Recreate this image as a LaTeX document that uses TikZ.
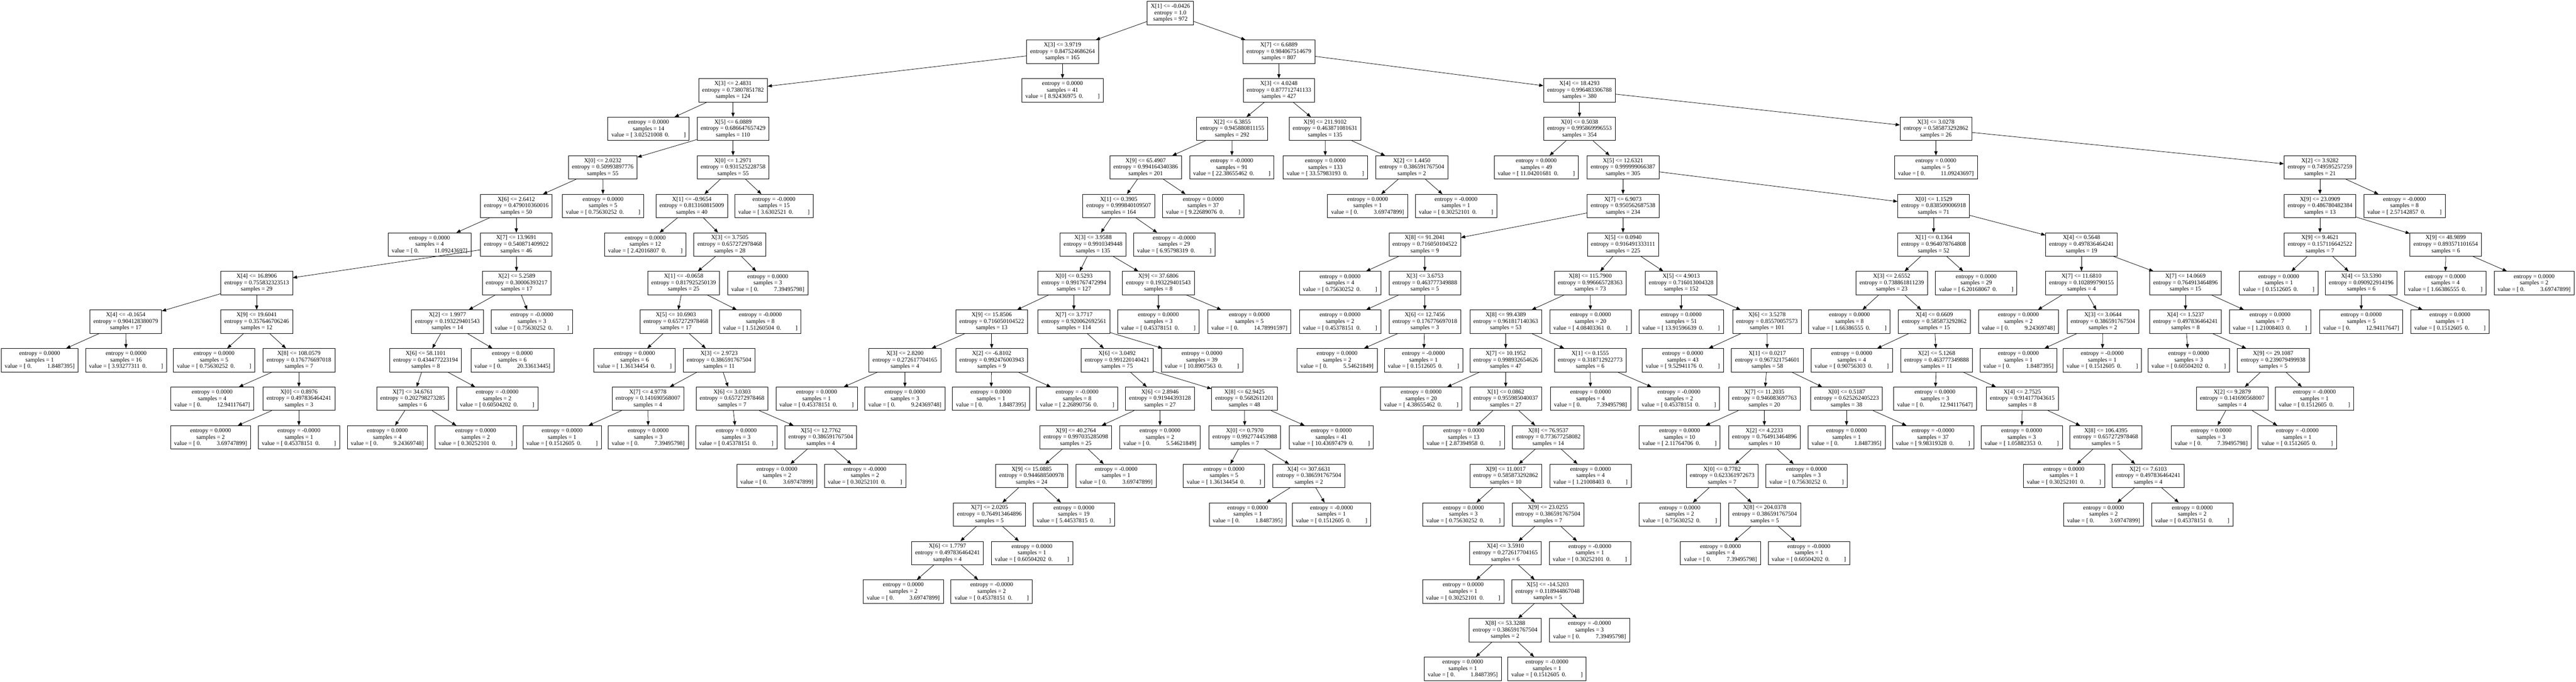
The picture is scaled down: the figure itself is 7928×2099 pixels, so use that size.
\documentclass[tikz,border=0pt]{standalone}
\usepackage{fontspec}
\setmainfont{Liberation Serif}
\usetikzlibrary{arrows.meta}
\newcommand{\nodefont}{\fontsize{18.3pt}{20pt}\selectfont}
\newcommand{\dtsplit}[4]{X[#1] <= #2\\entropy = #3\\samples = #4}
\newcommand{\dtlz}[3]{entropy = #1\\samples = #2\\value = [~0.\hspace{48pt}#3]}
\newcommand{\dtlv}[3]{entropy = #1\\samples = #2\\value = [~#3\hspace{8pt}0.\hspace{44pt}]}
\tikzset{
  nd/.style={draw, line width=1.2pt, rectangle, align=center, font=\nodefont,
    inner xsep=11pt, inner ysep=0pt, minimum height=72pt},
  edge/.style={line width=1.2pt, -{Triangle[length=13pt,width=10pt]}}
}
\begin{document}
\begin{tikzpicture}[x=1pt,y=-1pt]
\useasboundingbox (0,0) rectangle (7928,2099);
% row 0
\node[nd] (A0) at (3602,40.5) {\dtsplit{1}{-0.0426}{1.0}{972}};
% row 1
\node[nd] (B1) at (3270,159.2) {\dtsplit{3}{3.9719}{0.847524686264}{165}};
\node[nd] (B2) at (3936,159.2) {\dtsplit{7}{6.6889}{0.984067514679}{807}};
% row 2
\node[nd] (C1) at (2256,277.9) {\dtsplit{3}{2.4831}{0.73807851782}{124}};
\node[nd] (C2) at (3270,277.9) {\dtlv{0.0000}{41}{8.92436975}};
\node[nd] (C3) at (3936,277.9) {\dtsplit{3}{4.0248}{0.877712741133}{427}};
\node[nd] (C4) at (4861,277.9) {\dtsplit{4}{18.4293}{0.996483306788}{380}};
% row 3
\node[nd] (D1) at (1996,396.6) {\dtlv{0.0000}{14}{3.02521008}};
\node[nd] (D2) at (2256,396.6) {\dtsplit{5}{6.0889}{0.686647657429}{110}};
\node[nd] (D3) at (3792,396.6) {\dtsplit{2}{6.3855}{0.945880811155}{292}};
\node[nd] (D4) at (4078,396.6) {\dtsplit{9}{211.9102}{0.463871081631}{135}};
\node[nd] (D5) at (4861,396.6) {\dtsplit{0}{0.5038}{0.995869996553}{354}};
\node[nd] (D6) at (5958,396.6) {\dtsplit{3}{3.0278}{0.585873292862}{26}};
% row 4
\node[nd] (E1) at (1855,515.3) {\dtsplit{0}{2.0232}{0.50993897776}{55}};
\node[nd] (E2) at (2256,515.3) {\dtsplit{0}{1.2971}{0.931525228758}{55}};
\node[nd] (E3) at (3526,515.3) {\dtsplit{9}{65.4907}{0.994164340386}{201}};
\node[nd] (E4) at (3791,515.3) {\dtlv{-0.0000}{91}{22.38655462}};
\node[nd] (E5) at (4079,515.3) {\dtlv{0.0000}{133}{33.57983193}};
\node[nd] (E6) at (4345,515.3) {\dtsplit{2}{1.4450}{0.386591767504}{2}};
\node[nd] (E7) at (4728,515.3) {\dtlv{0.0000}{49}{11.04201681}};
\node[nd] (E8) at (4995,515.3) {\dtsplit{5}{12.6321}{0.999999066387}{305}};
\node[nd] (E9) at (5958,515.3) {\dtlz{0.0000}{5}{11.09243697}};
\node[nd] (E10) at (7140,515.3) {\dtsplit{2}{3.9282}{0.749595257259}{21}};
% row 5
\node[nd] (F1) at (1589,634.0) {\dtsplit{6}{2.6412}{0.479010360016}{50}};
\node[nd] (F2) at (1856,634.0) {\dtlv{0.0000}{5}{0.75630252}};
\node[nd] (F3) at (2129,634.0) {\dtsplit{1}{-0.9654}{0.813160815009}{40}};
\node[nd] (F4) at (2382,634.0) {\dtlv{-0.0000}{15}{3.6302521}};
\node[nd] (F5) at (3443,634.0) {\dtsplit{1}{0.3905}{0.999840109507}{164}};
\node[nd] (F6) at (3703,634.0) {\dtlv{0.0000}{37}{9.22689076}};
\node[nd] (F7) at (4209,634.0) {\dtlz{0.0000}{1}{3.69747899}};
\node[nd] (F8) at (4481,634.0) {\dtlv{-0.0000}{1}{0.30252101}};
\node[nd] (F9) at (4995,634.0) {\dtsplit{7}{6.9073}{0.950562687538}{234}};
\node[nd] (F10) at (5951,634.0) {\dtsplit{0}{1.1529}{0.838509006918}{71}};
\node[nd] (F11) at (7140,634.0) {\dtsplit{9}{23.0909}{0.486780482384}{13}};
\node[nd] (F12) at (7400,634.0) {\dtlv{-0.0000}{8}{2.57142857}};
% row 6
\node[nd] (G1) at (1322,752.7) {\dtlz{0.0000}{4}{11.09243697}};
\node[nd] (G2) at (1589,752.7) {\dtsplit{7}{13.9691}{0.540871409922}{46}};
\node[nd] (G3) at (1986,752.7) {\dtlv{0.0000}{12}{2.42016807}};
\node[nd] (G4) at (2246,752.7) {\dtsplit{3}{3.7505}{0.657272978468}{28}};
\node[nd] (G5) at (3364,752.7) {\dtsplit{3}{3.9588}{0.9910349448}{135}};
\node[nd] (G6) at (3614,752.7) {\dtlv{-0.0000}{29}{6.95798319}};
\node[nd] (G7) at (4385,752.7) {\dtsplit{8}{91.2041}{0.716050104522}{9}};
\node[nd] (G8) at (4995,752.7) {\dtsplit{5}{0.0940}{0.916491333111}{225}};
\node[nd] (G9) at (5951,752.7) {\dtsplit{1}{0.1364}{0.964078764808}{52}};
\node[nd] (G10) at (6406,752.7) {\dtsplit{4}{0.5648}{0.497836464241}{19}};
\node[nd] (G11) at (7140,752.7) {\dtsplit{9}{9.4621}{0.157116642522}{7}};
\node[nd] (G12) at (7527,752.7) {\dtsplit{9}{48.9899}{0.893571101654}{6}};
% row 7
\node[nd] (H1) at (790,871.4) {\dtsplit{4}{16.8906}{0.755832323513}{29}};
\node[nd] (H2) at (1590,871.4) {\dtsplit{2}{5.2589}{0.30006393217}{17}};
\node[nd] (H3) at (2104,871.4) {\dtsplit{1}{-0.0658}{0.817925250139}{25}};
\node[nd] (H4) at (2363,871.4) {\dtlz{0.0000}{3}{7.39495798}};
\node[nd] (H5) at (3305,871.4) {\dtsplit{0}{0.5293}{0.991767472994}{127}};
\node[nd] (H6) at (3565,871.4) {\dtsplit{9}{37.6806}{0.193229401543}{8}};
\node[nd] (H7) at (4124,871.4) {\dtlv{0.0000}{4}{0.75630252}};
\node[nd] (H8) at (4385,871.4) {\dtsplit{3}{3.6753}{0.463777349888}{5}};
\node[nd] (H9) at (4894,871.4) {\dtsplit{8}{115.7900}{0.996665728363}{73}};
\node[nd] (H10) at (5174,871.4) {\dtsplit{5}{4.9013}{0.716013004328}{152}};
\node[nd] (H11) at (5822,871.4) {\dtsplit{3}{2.6552}{0.738861811239}{23}};
\node[nd] (H12) at (6082,871.4) {\dtlv{0.0000}{29}{6.20168067}};
\node[nd] (H13) at (6406,871.4) {\dtsplit{7}{11.6810}{0.102899790155}{4}};
\node[nd] (H14) at (6726,871.4) {\dtsplit{7}{14.0669}{0.764913464896}{15}};
\node[nd] (H15) at (7013,871.4) {\dtlv{0.0000}{1}{0.1512605}};
\node[nd] (H16) at (7267,871.4) {\dtsplit{4}{53.5390}{0.090922914196}{6}};
\node[nd] (H17) at (7526,871.4) {\dtlv{0.0000}{4}{1.66386555}};
\node[nd] (H18) at (7799,871.4) {\dtlz{0.0000}{2}{3.69747899}};
% row 8
\node[nd] (I1) at (387,990.1) {\dtsplit{4}{-0.1654}{0.904128380079}{17}};
\node[nd] (I2) at (790,990.1) {\dtsplit{9}{19.6041}{0.357646706246}{12}};
\node[nd] (I3) at (1377,990.1) {\dtsplit{2}{1.9977}{0.193229401543}{14}};
\node[nd] (I4) at (1637,990.1) {\dtlv{-0.0000}{3}{0.75630252}};
\node[nd] (I5) at (2080,990.1) {\dtsplit{5}{10.6903}{0.657272978468}{17}};
\node[nd] (I6) at (2340,990.1) {\dtlv{-0.0000}{8}{1.51260504}};
\node[nd] (I7) at (3052,990.1) {\dtsplit{9}{15.8506}{0.716050104522}{13}};
\node[nd] (I8) at (3305,990.1) {\dtsplit{7}{3.7717}{0.920062692561}{114}};
\node[nd] (I9) at (3565,990.1) {\dtlv{0.0000}{3}{0.45378151}};
\node[nd] (I10) at (3845,990.1) {\dtlz{0.0000}{5}{14.78991597}};
\node[nd] (I11) at (4124,990.1) {\dtlv{0.0000}{2}{0.45378151}};
\node[nd] (I12) at (4385,990.1) {\dtsplit{6}{12.7456}{0.176776697018}{3}};
\node[nd] (I13) at (4634,990.1) {\dtsplit{8}{99.4389}{0.961817140363}{53}};
\node[nd] (I14) at (4895,990.1) {\dtlv{0.0000}{20}{4.08403361}};
\node[nd] (I15) at (5174,990.1) {\dtlv{0.0000}{51}{13.91596639}};
\node[nd] (I16) at (5438,990.1) {\dtsplit{6}{3.5278}{0.85570057573}{101}};
\node[nd] (I17) at (5692,990.1) {\dtlv{0.0000}{8}{1.66386555}};
\node[nd] (I18) at (5953,990.1) {\dtsplit{4}{0.6609}{0.585873292862}{15}};
\node[nd] (I19) at (6212,990.1) {\dtlz{0.0000}{2}{9.24369748}};
\node[nd] (I20) at (6472,990.1) {\dtsplit{3}{3.0644}{0.386591767504}{2}};
\node[nd] (I21) at (6726,990.1) {\dtsplit{4}{1.5237}{0.497836464241}{8}};
\node[nd] (I22) at (6986,990.1) {\dtlv{0.0000}{7}{1.21008403}};
\node[nd] (I23) at (7267,990.1) {\dtlz{0.0000}{5}{12.94117647}};
\node[nd] (I24) at (7540,990.1) {\dtlv{0.0000}{1}{0.1512605}};
% row 9
\node[nd] (J1) at (122,1108.8) {\dtlz{0.0000}{1}{1.8487395}};
\node[nd] (J2) at (388,1108.8) {\dtlv{0.0000}{16}{3.93277311}};
\node[nd] (J3) at (659,1108.8) {\dtlv{0.0000}{5}{0.75630252}};
\node[nd] (J4) at (920,1108.8) {\dtsplit{8}{108.0579}{0.176776697018}{7}};
\node[nd] (J5) at (1310,1108.8) {\dtsplit{6}{58.1101}{0.434477223194}{8}};
\node[nd] (J6) at (1577,1108.8) {\dtlz{0.0000}{6}{20.33613445}};
\node[nd] (J7) at (1953,1108.8) {\dtlv{0.0000}{6}{1.36134454}};
\node[nd] (J8) at (2213,1108.8) {\dtsplit{3}{2.9723}{0.386591767504}{11}};
\node[nd] (J9) at (2785,1108.8) {\dtsplit{3}{2.8200}{0.272617704165}{4}};
\node[nd] (J10) at (3052,1108.8) {\dtsplit{2}{-6.8102}{0.992476003943}{9}};
\node[nd] (J11) at (3438,1108.8) {\dtsplit{6}{3.0492}{0.991220140421}{75}};
\node[nd] (J12) at (3699,1108.8) {\dtlv{0.0000}{39}{10.8907563}};
\node[nd] (J13) at (4115,1108.8) {\dtlz{0.0000}{2}{5.54621849}};
\node[nd] (J14) at (4381,1108.8) {\dtlv{-0.0000}{1}{0.1512605}};
\node[nd] (J15) at (4634,1108.8) {\dtsplit{7}{10.1952}{0.998932654626}{47}};
\node[nd] (J16) at (4894,1108.8) {\dtsplit{1}{0.1555}{0.318712922773}{6}};
\node[nd] (J17) at (5179,1108.8) {\dtlv{0.0000}{43}{9.52941176}};
\node[nd] (J18) at (5439,1108.8) {\dtsplit{1}{0.0217}{0.967321754601}{58}};
\node[nd] (J19) at (5699,1108.8) {\dtlv{0.0000}{4}{0.90756303}};
\node[nd] (J20) at (5960,1108.8) {\dtsplit{2}{5.1268}{0.463777349888}{11}};
\node[nd] (J21) at (6212,1108.8) {\dtlz{0.0000}{1}{1.8487395}};
\node[nd] (J22) at (6470,1108.8) {\dtlv{-0.0000}{1}{0.1512605}};
\node[nd] (J23) at (6736,1108.8) {\dtlv{0.0000}{3}{0.60504202}};
\node[nd] (J24) at (6996,1108.8) {\dtsplit{9}{29.1087}{0.239079499938}{5}};
% row 10
\node[nd] (K1) at (653,1227.5) {\dtlz{0.0000}{4}{12.94117647}};
\node[nd] (K2) at (920,1227.5) {\dtsplit{0}{0.8976}{0.497836464241}{3}};
\node[nd] (K3) at (1270,1227.5) {\dtsplit{7}{34.6761}{0.202798273285}{6}};
\node[nd] (K4) at (1530,1227.5) {\dtlv{-0.0000}{2}{0.60504202}};
\node[nd] (K5) at (1994,1227.5) {\dtsplit{7}{4.9778}{0.141690568007}{4}};
\node[nd] (K6) at (2253,1227.5) {\dtsplit{6}{3.0303}{0.657272978468}{7}};
\node[nd] (K7) at (2513,1227.5) {\dtlv{0.0000}{1}{0.45378151}};
\node[nd] (K8) at (2785,1227.5) {\dtlz{0.0000}{3}{9.24369748}};
\node[nd] (K9) at (3050,1227.5) {\dtlz{0.0000}{1}{1.8487395}};
\node[nd] (K10) at (3315,1227.5) {\dtlv{-0.0000}{8}{2.26890756}};
\node[nd] (K11) at (3570,1227.5) {\dtsplit{6}{2.8946}{0.91944393128}{27}};
\node[nd] (K12) at (3830,1227.5) {\dtsplit{8}{62.9425}{0.5682611201}{48}};
\node[nd] (K13) at (4374,1227.5) {\dtlv{0.0000}{20}{4.38655462}};
\node[nd] (K14) at (4634,1227.5) {\dtsplit{1}{0.0862}{0.955985040037}{27}};
\node[nd] (K15) at (4895,1227.5) {\dtlz{0.0000}{4}{7.39495798}};
\node[nd] (K16) at (5167,1227.5) {\dtlv{-0.0000}{2}{0.45378151}};
\node[nd] (K17) at (5430,1227.5) {\dtsplit{7}{11.2035}{0.946083697763}{20}};
\node[nd] (K18) at (5683,1227.5) {\dtsplit{0}{0.5187}{0.625262405223}{38}};
\node[nd] (K19) at (5955,1227.5) {\dtlz{0.0000}{3}{12.94117647}};
\node[nd] (K20) at (6224,1227.5) {\dtsplit{4}{2.7525}{0.914177043615}{8}};
\node[nd] (K21) at (6870,1227.5) {\dtsplit{2}{9.2879}{0.141690568007}{4}};
\node[nd] (K22) at (7123,1227.5) {\dtlv{-0.0000}{1}{0.1512605}};
% row 11
\node[nd] (L1) at (648,1346.2) {\dtlz{0.0000}{2}{3.69747899}};
\node[nd] (L2) at (920,1346.2) {\dtlv{-0.0000}{1}{0.45378151}};
\node[nd] (L3) at (1192,1346.2) {\dtlz{0.0000}{4}{9.24369748}};
\node[nd] (L4) at (1464,1346.2) {\dtlv{0.0000}{2}{0.30252101}};
\node[nd] (L5) at (1730,1346.2) {\dtlv{0.0000}{1}{0.1512605}};
\node[nd] (L6) at (1995,1346.2) {\dtlz{0.0000}{3}{7.39495798}};
\node[nd] (L7) at (2266,1346.2) {\dtlv{0.0000}{3}{0.45378151}};
\node[nd] (L8) at (2526,1346.2) {\dtsplit{5}{12.7762}{0.386591767504}{4}};
\node[nd] (L9) at (3311,1346.2) {\dtsplit{9}{40.2764}{0.997035285098}{25}};
\node[nd] (L10) at (3570,1346.2) {\dtlz{0.0000}{2}{5.54621849}};
\node[nd] (L11) at (3831,1346.2) {\dtsplit{0}{0.7970}{0.992774453988}{7}};
\node[nd] (L12) at (4097,1346.2) {\dtlv{0.0000}{41}{10.43697479}};
\node[nd] (L13) at (4505,1346.2) {\dtlv{0.0000}{13}{2.87394958}};
\node[nd] (L14) at (4765,1346.2) {\dtsplit{8}{76.9537}{0.773677258082}{14}};
\node[nd] (L15) at (5169,1346.2) {\dtlv{0.0000}{10}{2.11764706}};
\node[nd] (L16) at (5430,1346.2) {\dtsplit{2}{4.2233}{0.764913464896}{10}};
\node[nd] (L17) at (5683,1346.2) {\dtlz{0.0000}{1}{1.8487395}};
\node[nd] (L18) at (5949,1346.2) {\dtlv{-0.0000}{37}{9.98319328}};
\node[nd] (L19) at (6222,1346.2) {\dtlv{0.0000}{3}{1.05882353}};
\node[nd] (L20) at (6481,1346.2) {\dtsplit{8}{106.4395}{0.657272978468}{5}};
\node[nd] (L21) at (6805,1346.2) {\dtlz{0.0000}{3}{7.39495798}};
\node[nd] (L22) at (7070,1346.2) {\dtlv{-0.0000}{1}{0.1512605}};
% row 12
\node[nd] (M1) at (2391,1464.9) {\dtlz{0.0000}{2}{3.69747899}};
\node[nd] (M2) at (2662,1464.9) {\dtlv{-0.0000}{2}{0.30252101}};
\node[nd] (M3) at (3175,1464.9) {\dtsplit{9}{15.0885}{0.944688500978}{24}};
\node[nd] (M4) at (3435,1464.9) {\dtlz{-0.0000}{1}{3.69747899}};
\node[nd] (M5) at (3767,1464.9) {\dtlv{0.0000}{5}{1.36134454}};
\node[nd] (M6) at (4028,1464.9) {\dtsplit{4}{307.6631}{0.386591767504}{2}};
\node[nd] (M7) at (4634,1464.9) {\dtsplit{9}{11.0017}{0.585873292862}{10}};
\node[nd] (M8) at (4895,1464.9) {\dtlv{0.0000}{4}{1.21008403}};
\node[nd] (M9) at (5300,1464.9) {\dtsplit{0}{0.7782}{0.623361972673}{7}};
\node[nd] (M10) at (5560,1464.9) {\dtlv{0.0000}{3}{0.75630252}};
\node[nd] (M11) at (6352,1464.9) {\dtlv{0.0000}{1}{0.30252101}};
\node[nd] (M12) at (6611,1464.9) {\dtsplit{2}{7.6103}{0.497836464241}{4}};
% row 13
\node[nd] (N1) at (3045,1583.6) {\dtsplit{7}{2.0205}{0.764913464896}{5}};
\node[nd] (N2) at (3305,1583.6) {\dtlv{0.0000}{19}{5.44537815}};
\node[nd] (N3) at (3840,1583.6) {\dtlz{0.0000}{1}{1.8487395}};
\node[nd] (N4) at (4098,1583.6) {\dtlv{-0.0000}{1}{0.1512605}};
\node[nd] (N5) at (4504,1583.6) {\dtlv{0.0000}{3}{0.75630252}};
\node[nd] (N6) at (4764,1583.6) {\dtsplit{9}{23.0255}{0.386591767504}{7}};
\node[nd] (N7) at (5170,1583.6) {\dtlv{0.0000}{2}{0.75630252}};
\node[nd] (N8) at (5431,1583.6) {\dtsplit{8}{204.0378}{0.386591767504}{5}};
\node[nd] (N9) at (6474,1583.6) {\dtlz{0.0000}{2}{3.69747899}};
\node[nd] (N10) at (6747,1583.6) {\dtlv{0.0000}{2}{0.45378151}};
% row 14
\node[nd] (O1) at (2916,1702.3) {\dtsplit{6}{1.7797}{0.497836464241}{4}};
\node[nd] (O2) at (3176,1702.3) {\dtlv{0.0000}{1}{0.60504202}};
\node[nd] (O3) at (4633,1702.3) {\dtsplit{4}{3.5910}{0.272617704165}{6}};
\node[nd] (O4) at (4893,1702.3) {\dtlv{-0.0000}{1}{0.30252101}};
\node[nd] (O5) at (5295,1702.3) {\dtlz{0.0000}{4}{7.39495798}};
\node[nd] (O6) at (5567,1702.3) {\dtlv{-0.0000}{1}{0.60504202}};
% row 15
\node[nd] (P1) at (2780,1821.0) {\dtlz{0.0000}{2}{3.69747899}};
\node[nd] (P2) at (3052,1821.0) {\dtlv{-0.0000}{2}{0.45378151}};
\node[nd] (P3) at (4503,1821.0) {\dtlv{0.0000}{1}{0.30252101}};
\node[nd] (P4) at (4763,1821.0) {\dtsplit{5}{-14.5203}{0.118944867048}{5}};
% row 16
\node[nd] (Q1) at (4632,1939.7) {\dtsplit{8}{53.3288}{0.386591767504}{2}};
\node[nd] (Q2) at (4892,1939.7) {\dtlz{-0.0000}{3}{7.39495798}};
% row 17
\node[nd] (R1) at (4502,2058.4) {\dtlz{0.0000}{1}{1.8487395}};
\node[nd] (R2) at (4761,2058.4) {\dtlv{-0.0000}{1}{0.1512605}};
% edges
\foreach \a/\b in {A0/B1, A0/B2,
  B1/C1, B1/C2, B2/C3, B2/C4,
  C1/D1, C1/D2, C3/D3, C3/D4, C4/D5, C4/D6,
  D2/E1, D2/E2, D3/E3, D3/E4, D4/E5, D4/E6, D5/E7, D5/E8, D6/E9, D6/E10,
  E1/F1, E1/F2, E2/F3, E2/F4, E3/F5, E3/F6, E6/F7, E6/F8, E8/F9, E8/F10, E10/F11, E10/F12,
  F1/G1, F1/G2, F3/G3, F3/G4, F5/G5, F5/G6, F9/G7, F9/G8, F10/G9, F10/G10, F11/G11, F11/G12,
  G2/H1, G2/H2, G4/H3, G4/H4, G5/H5, G5/H6, G7/H7, G7/H8, G8/H9, G8/H10, G9/H11, G9/H12,
  G10/H13, G10/H14, G11/H15, G11/H16, G12/H17, G12/H18,
  H1/I1, H1/I2, H2/I3, H2/I4, H3/I5, H3/I6, H5/I7, H5/I8, H6/I9, H6/I10, H8/I11, H8/I12,
  H9/I13, H9/I14, H10/I15, H10/I16, H11/I17, H11/I18, H13/I19, H13/I20, H14/I21, H14/I22,
  H16/I23, H16/I24,
  I1/J1, I1/J2, I2/J3, I2/J4, I3/J5, I3/J6, I5/J7, I5/J8, I7/J9, I7/J10, I8/J11, I8/J12,
  I12/J13, I12/J14, I13/J15, I13/J16, I16/J17, I16/J18, I18/J19, I18/J20, I20/J21, I20/J22,
  I21/J23, I21/J24,
  J4/K1, J4/K2, J5/K3, J5/K4, J8/K5, J8/K6, J9/K7, J9/K8, J10/K9, J10/K10, J11/K11, J11/K12,
  J15/K13, J15/K14, J16/K15, J16/K16, J18/K17, J18/K18, J20/K19, J20/K20, J24/K21, J24/K22,
  K2/L1, K2/L2, K3/L3, K3/L4, K5/L5, K5/L6, K6/L7, K6/L8, K11/L9, K11/L10, K12/L11, K12/L12,
  K14/L13, K14/L14, K17/L15, K17/L16, K18/L17, K18/L18, K20/L19, K20/L20, K21/L21, K21/L22,
  L8/M1, L8/M2, L9/M3, L9/M4, L11/M5, L11/M6, L14/M7, L14/M8, L16/M9, L16/M10, L20/M11, L20/M12,
  M3/N1, M3/N2, M6/N3, M6/N4, M7/N5, M7/N6, M9/N7, M9/N8, M12/N9, M12/N10,
  N1/O1, N1/O2, N6/O3, N6/O4, N8/O5, N8/O6,
  O1/P1, O1/P2, O3/P3, O3/P4,
  P4/Q1, P4/Q2,
  Q1/R1, Q1/R2}
  \draw[edge] (\a) -- (\b);
\end{tikzpicture}
\end{document}
